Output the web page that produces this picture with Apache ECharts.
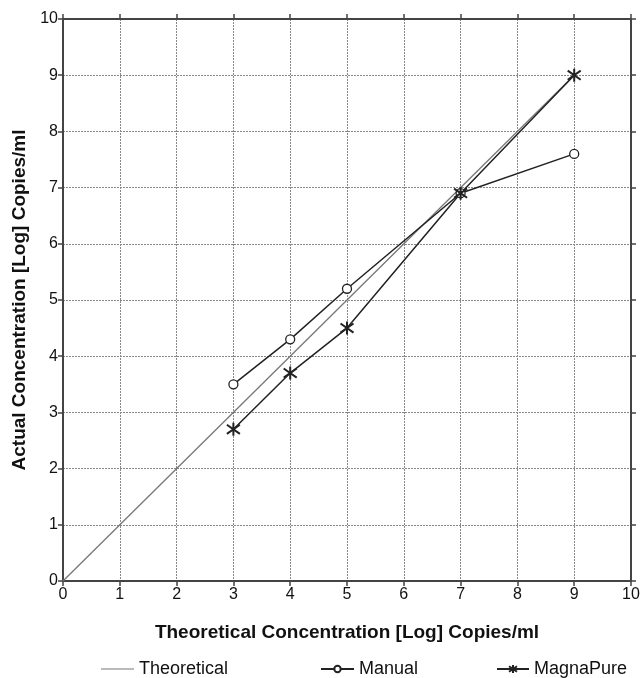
<!DOCTYPE html>
<html>
<head>
<meta charset="utf-8">
<script src="https://cdn.jsdelivr.net/npm/echarts@6/dist/echarts.min.js"></script>
<style>
  html, body { margin: 0; padding: 0; background: #fff; }
  #main { width: 643px; height: 678px; }
</style>
</head>
<body>
<div id="main"></div>
<script>
var chart = echarts.init(document.getElementById('main'));

// data
var theoretical = [[0, 0], [9, 9]];
var manual = [[3, 3.5], [4, 4.3], [5, 5.2], [7, 6.9], [9, 7.6]];
var magnaPure = [[3, 2.7], [4, 3.7], [5, 4.5], [7, 6.9], [9, 9.0]];

var xTitle = 'Theoretical Concentration [Log] Copies/ml';
var yTitle = 'Actual Concentration [Log] Copies/ml';

var font = 'Liberation Sans, Arial, sans-serif';
var axisCol = '#444';
// vertical bar plus an X, like the spreadsheet asterisk marker
var asterisk = 'path://M10,0L10,20M2,3L18,17M2,17L18,3';

function frameAxis(pos) {
    return {
        type: 'value', position: pos, min: 0, max: 10, interval: 1,
        axisLine: { show: true, onZero: false, lineStyle: { color: axisCol, width: 2 } },
        axisTick: { show: true, length: 5, lineStyle: { color: axisCol, width: 1.5 } },
        axisLabel: { show: false },
        splitLine: { show: false }
    };
}

var legendText = { fontSize: 18, color: '#111', fontFamily: font };

var option = {
    backgroundColor: '#fff',
    textStyle: { fontFamily: font },
    grid: { left: 63, right: 12, top: 19, bottom: 97 },
    xAxis: [{
        type: 'value', min: 0, max: 10, interval: 1,
        name: xTitle, nameLocation: 'middle', nameGap: 42,
        nameTextStyle: { fontSize: 19, fontWeight: 'bold', color: '#111', fontFamily: font },
        axisLine: { onZero: false, lineStyle: { color: axisCol, width: 2 } },
        axisTick: { length: 5, lineStyle: { color: axisCol, width: 1.5 } },
        axisLabel: { fontSize: 16, color: '#111', margin: 6 },
        splitLine: { show: true, lineStyle: { color: '#888', type: [2, 1], width: 1 } }
    }, frameAxis('top')],
    yAxis: [{
        type: 'value', min: 0, max: 10, interval: 1,
        name: yTitle, nameLocation: 'middle', nameGap: 33,
        nameTextStyle: { fontSize: 19, fontWeight: 'bold', color: '#111', fontFamily: font },
        axisLine: { onZero: false, lineStyle: { color: axisCol, width: 2 } },
        axisTick: { length: 5, lineStyle: { color: axisCol, width: 1.5 } },
        axisLabel: { fontSize: 16, color: '#111', margin: 5 },
        splitLine: { show: true, lineStyle: { color: '#888', type: [2, 1], width: 1 } }
    }, frameAxis('right')],
    legend: [
        { data: [{ name: 'Theoretical', icon: 'rect' }], left: 96, top: 655,
          itemWidth: 33, itemHeight: 1, itemGap: 0,
          textStyle: legendText },
        { data: ['Manual'], left: 315, top: 655, itemWidth: 33, itemHeight: 8,
          textStyle: legendText },
        { data: ['MagnaPure'], left: 491, top: 655, itemWidth: 32, itemHeight: 10,
          textStyle: legendText }
    ],
    series: [{
        name: 'Theoretical', type: 'line', data: theoretical,
        showSymbol: false, symbol: 'none',
        lineStyle: { color: '#777', width: 1.3 },
        itemStyle: { color: '#777' },
        z: 2
    }, {
        name: 'Manual', type: 'line', data: manual,
        symbol: 'circle', symbolSize: 9,
        lineStyle: { color: '#222', width: 1.5 },
        itemStyle: { color: '#fff', borderColor: '#222', borderWidth: 1.3 },
        z: 3
    }, {
        name: 'MagnaPure', type: 'line', data: magnaPure,
        symbol: asterisk, symbolSize: 13,
        lineStyle: { color: '#222', width: 1.5 },
        itemStyle: { color: '#222', borderColor: '#222', borderWidth: 2 },
        z: 3
    }]
};

chart.setOption(option);
window.addEventListener('resize', function () { chart.resize(); });
</script>
</body>
</html>
